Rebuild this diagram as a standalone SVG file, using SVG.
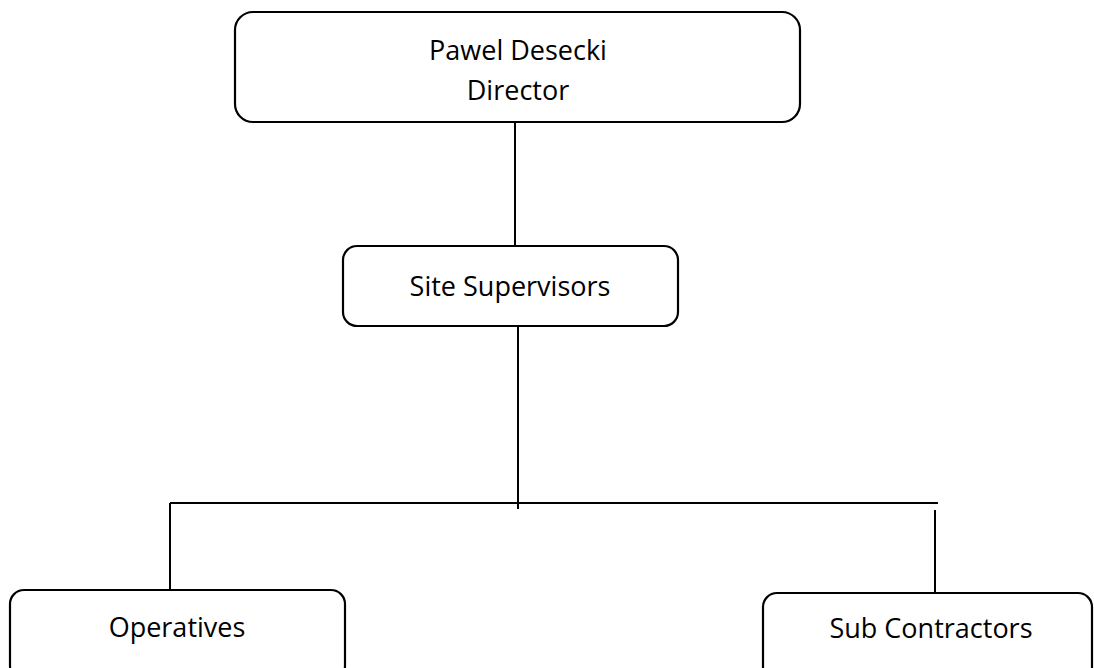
<svg xmlns="http://www.w3.org/2000/svg" width="1094" height="668" viewBox="0 0 1094 668">
<style>
.box{fill:#fff;stroke:#000;stroke-width:2.2}
.lbl{font-family:"Open Sans","Liberation Sans",sans-serif;font-size:27px;fill:#000;text-anchor:middle}
.con{stroke:#000;stroke-width:2;fill:none}
</style>
<rect width="1094" height="668" fill="#fff"/>
<g id="connectors">
<line class="con" x1="515" y1="122" x2="515" y2="246"/>
<line class="con" x1="518" y1="320" x2="518" y2="509"/>
<line class="con" x1="170" y1="503" x2="938" y2="503"/>
<line class="con" x1="170" y1="503" x2="170" y2="591"/>
<line class="con" x1="935" y1="510" x2="935" y2="593"/>
</g>
<g id="director">
<rect class="box" x="235" y="12" width="565" height="110" rx="18"/>
<text class="lbl" x="518" y="60">Pawel Desecki</text>
<text class="lbl" x="518" y="100">Director</text>
</g>
<g id="site-supervisors">
<rect class="box" x="343" y="246" width="335" height="80" rx="14"/>
<text class="lbl" x="510" y="296">Site Supervisors</text>
</g>
<g id="operatives">
<rect class="box" x="10" y="590" width="335" height="90" rx="14"/>
<text class="lbl" x="177" y="637">Operatives</text>
</g>
<g id="sub-contractors">
<rect class="box" x="763" y="593" width="329" height="90" rx="14"/>
<text class="lbl" x="931" y="638">Sub Contractors</text>
</g>
</svg>
